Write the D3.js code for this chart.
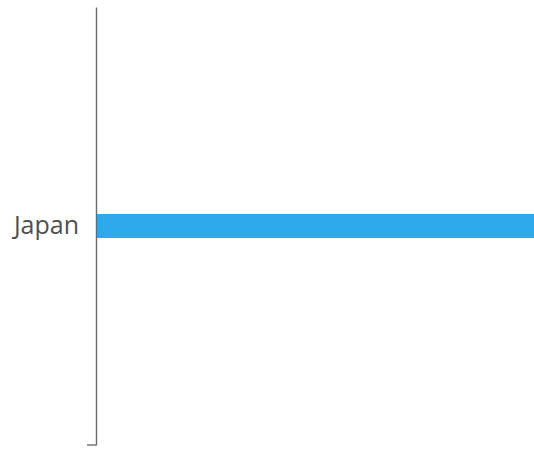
<!DOCTYPE html>
<html><head><meta charset="utf-8">
<script src="https://cdn.jsdelivr.net/npm/d3@7"></script>
<style>body{margin:0;background:#fff}svg{display:block}</style>
</head><body>
<svg id="c" width="534" height="449"></svg>
<script>
const categories = ["Japan"];
const values = [100];
const W = 534, H = 449;
const svg = d3.select("#c");
const mLeft = 96, mTop = 7, mBottom = 445;
const y = d3.scaleBand().domain(categories).range([mTop, mBottom]).paddingInner(0.896).paddingOuter(0.896);
const x = d3.scaleLinear().domain([0, 95]).range([mLeft, W]);
svg.selectAll("rect.bar").data(categories).enter().append("rect")
  .attr("class","bar")
  .attr("x", x(0))
  .attr("y", d => y(d))
  .attr("width", (d,i) => x(values[i]) - x(0))
  .attr("height", y.bandwidth())
  .attr("fill", "#2eaaec");
const ax = svg.append("g").attr("transform", `translate(${mLeft},0)`)
  .call(d3.axisLeft(y).tickSizeInner(0).tickSizeOuter(0).tickPadding(17));
ax.select(".domain").attr("stroke", "#6b6b6b").attr("stroke-width", 1.4);
ax.selectAll("text").attr("font-family", "'Open Sans', sans-serif").attr("font-size", 25).attr("fill", "#4f4f4f");
ax.append("line").attr("x1", -9).attr("x2", 0).attr("y1", mBottom).attr("y2", mBottom).attr("stroke", "#6b6b6b").attr("stroke-width", 1.4);
</script>
</body></html>
